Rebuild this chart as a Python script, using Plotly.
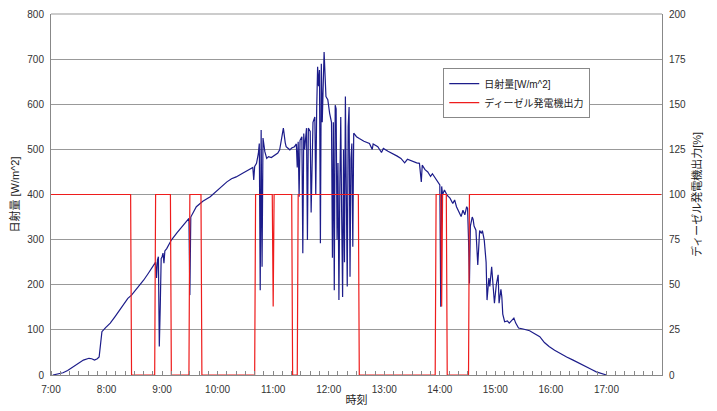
import plotly.graph_objects as go

DAY = "2000-01-01 "

irr_time = ["7:02","7:08","7:13","7:18","7:24","7:30","7:35","7:41","7:44","7:47","7:50","7:52","7:54","7:55","7:59",
            "8:04","8:09","8:14","8:19","8:23","8:27","8:33","8:40","8:45","8:50","8:53","8:54","8:55","8:56","8:57","8:58","8:59",
            "9:00","9:01","9:02","9:03","9:05","9:10","9:16","9:23","9:29","9:30","9:31","9:37","9:44","9:52",
            "10:00","10:05","10:10","10:15","10:20","10:27","10:35","10:38","10:39","10:40","10:42","10:44","10:45","10:46","10:47","10:48","10:49","10:51","10:53","10:55","10:58",
            "11:02","11:05","11:07","11:09","11:11","11:13","11:14","11:18","11:20","11:23","11:25","11:26","11:27","11:28","11:29","11:31","11:32","11:33","11:34","11:36","11:37","11:38","11:40","11:41","11:43","11:45","11:46","11:47","11:48","11:49","11:50","11:51","11:52","11:53","11:55","11:57","11:59",
            "12:01","12:03","12:04","12:05","12:06","12:07","12:08","12:09","12:10","12:11","12:12","12:13","12:14","12:15","12:16","12:17","12:18","12:19","12:20","12:21","12:22","12:23","12:24","12:25","12:26","12:27","12:30","12:33","12:38","12:44","12:47","12:48","12:53","12:57","12:59",
            "13:04","13:09","13:14","13:18","13:22","13:25","13:31","13:35","13:38","13:40","13:41","13:44","13:47","13:50","13:52","13:56",
            "14:00","14:01","14:02","14:03","14:05","14:08","14:11","14:14","14:16","14:18","14:20","14:23","14:25","14:27","14:29","14:30","14:31","14:32","14:33","14:35","14:36","14:37","14:39","14:41","14:43","14:45","14:46","14:48","14:50","14:51","14:53","14:54","14:56","14:57","14:59",
            "15:01","15:03","15:04","15:06","15:07","15:08","15:10","15:13","15:15","15:18","15:20","15:22","15:25","15:30","15:37","15:42","15:48","15:53","15:58",
            "16:04","16:09","16:17","16:24","16:31","16:38","16:44","16:49","16:54","16:58","17:00"]
irr_value = [0,2,5,10,18,26,33,37,36,33,36,40,70,96,105,
             115,129,144,158,170,177,192,210,225,240,250,215,255,262,63,150,258,
             262,270,248,275,280,299,315,332,347,177,350,373,385,395,
             410,420,428,435,439,447,456,460,432,462,469,491,513,188,543,240,525,495,480,484,482,
             488,492,499,520,547,515,506,499,503,506,512,460,517,395,520,528,270,535,500,547,299,547,540,360,560,572,399,590,683,640,676,292,690,560,716,617,610,
             580,560,260,560,188,598,590,300,470,166,420,572,350,173,500,250,617,400,196,550,594,218,480,513,284,536,528,524,518,513,500,512,506,493,502,
             496,491,485,480,470,478,473,470,469,428,465,455,450,440,446,432,
             421,151,418,400,410,398,392,380,388,373,365,351,365,355,373,369,300,203,330,350,345,330,321,244,320,314,320,299,250,166,215,196,240,210,159,
             200,222,159,190,173,135,118,120,115,122,126,115,104,102,98,92,85,72,63,
             55,49,40,33,25,18,12,7,4,2,0]

dg_time = ["7:00","8:26","8:27","8:52","8:53","9:09","9:10","9:29","9:30","9:42","9:43",
           "10:40","10:41","10:59","11:00","11:01","11:20","11:21","11:26","11:27",
           "12:32","12:33","13:55","13:56","14:01","14:02","14:03","14:07","14:08","14:31","14:32","17:59"]
dg_value = [100,100,0,0,100,100,0,0,100,100,0,
            0,100,100,38,100,100,0,0,100,
            100,0,0,100,100,38,100,100,0,0,100,100]

hour_ticks = ["7:00","8:00","9:00","10:00","11:00","12:00","13:00","14:00","15:00","16:00","17:00"]

def ts(t):
    h, m = t.split(":")
    return f"{DAY}{int(h):02d}:{m}"

FONT = "Arial, Liberation Sans, Noto Sans CJK JP, sans-serif"

fig = go.Figure()
fig.add_trace(go.Scatter(x=[ts(t) for t in irr_time], y=irr_value, mode="lines",
                         name="日射量[W/m^2]", line=dict(color="#1c1c8a", width=1.2), yaxis="y"))
fig.add_trace(go.Scatter(x=[ts(t) for t in dg_time], y=dg_value, mode="lines",
                         name="ディーゼル発電機出力", line=dict(color="#ee1c1c", width=1.2), yaxis="y2"))

fig.update_layout(
    width=717, height=411,
    margin=dict(l=43, r=63, t=6, b=44),
    paper_bgcolor="white", plot_bgcolor="white",
    font=dict(family=FONT, size=10, color="#333333"),
    showlegend=True,
    legend=dict(x=0.642, y=0.85, xanchor="left", yanchor="top",
                bgcolor="white", bordercolor="#888888", borderwidth=1,
                font=dict(size=10, color="#222222"), tracegroupgap=0, itemwidth=30),
    xaxis=dict(type="date", range=[ts("7:00"), ts("18:00")], automargin=False,
               tickvals=[ts(t) for t in hour_ticks], ticktext=hour_ticks, ticklabelstandoff=5,
               ticks="", showgrid=False, showline=True, linecolor="#888888", linewidth=1,
               mirror=False, zeroline=False,
               minor=dict(dtick=600000, tick0=ts("7:00"), ticks="inside", ticklen=4, tickcolor="#888888", showgrid=False),
               title=dict(text="時刻", font=dict(size=11, color="#222222"), standoff=2)),
    yaxis=dict(range=[0, 800], dtick=100, showgrid=True, gridcolor="#999999", gridwidth=1, automargin=False,
               showline=True, linecolor="#888888", linewidth=1, zeroline=False, ticks="", ticklabelstandoff=4,
               title=dict(text="日射量 [W/m^2]", font=dict(size=11, color="#222222"), standoff=8)),
    yaxis2=dict(range=[0, 200], dtick=25, overlaying="y", side="right", showgrid=False, automargin=False,
                showline=True, linecolor="#888888", linewidth=1, zeroline=False, ticks="", ticklabelstandoff=4,
                title=dict(text="ディーゼル発電機出力[%]", font=dict(size=11, color="#222222"), standoff=8)),
)
fig.add_shape(type="line", xref="paper", yref="paper", x0=0, x1=1, y0=1, y1=1,
              line=dict(color="#999999", width=1))

fig.write_html("out.html")
